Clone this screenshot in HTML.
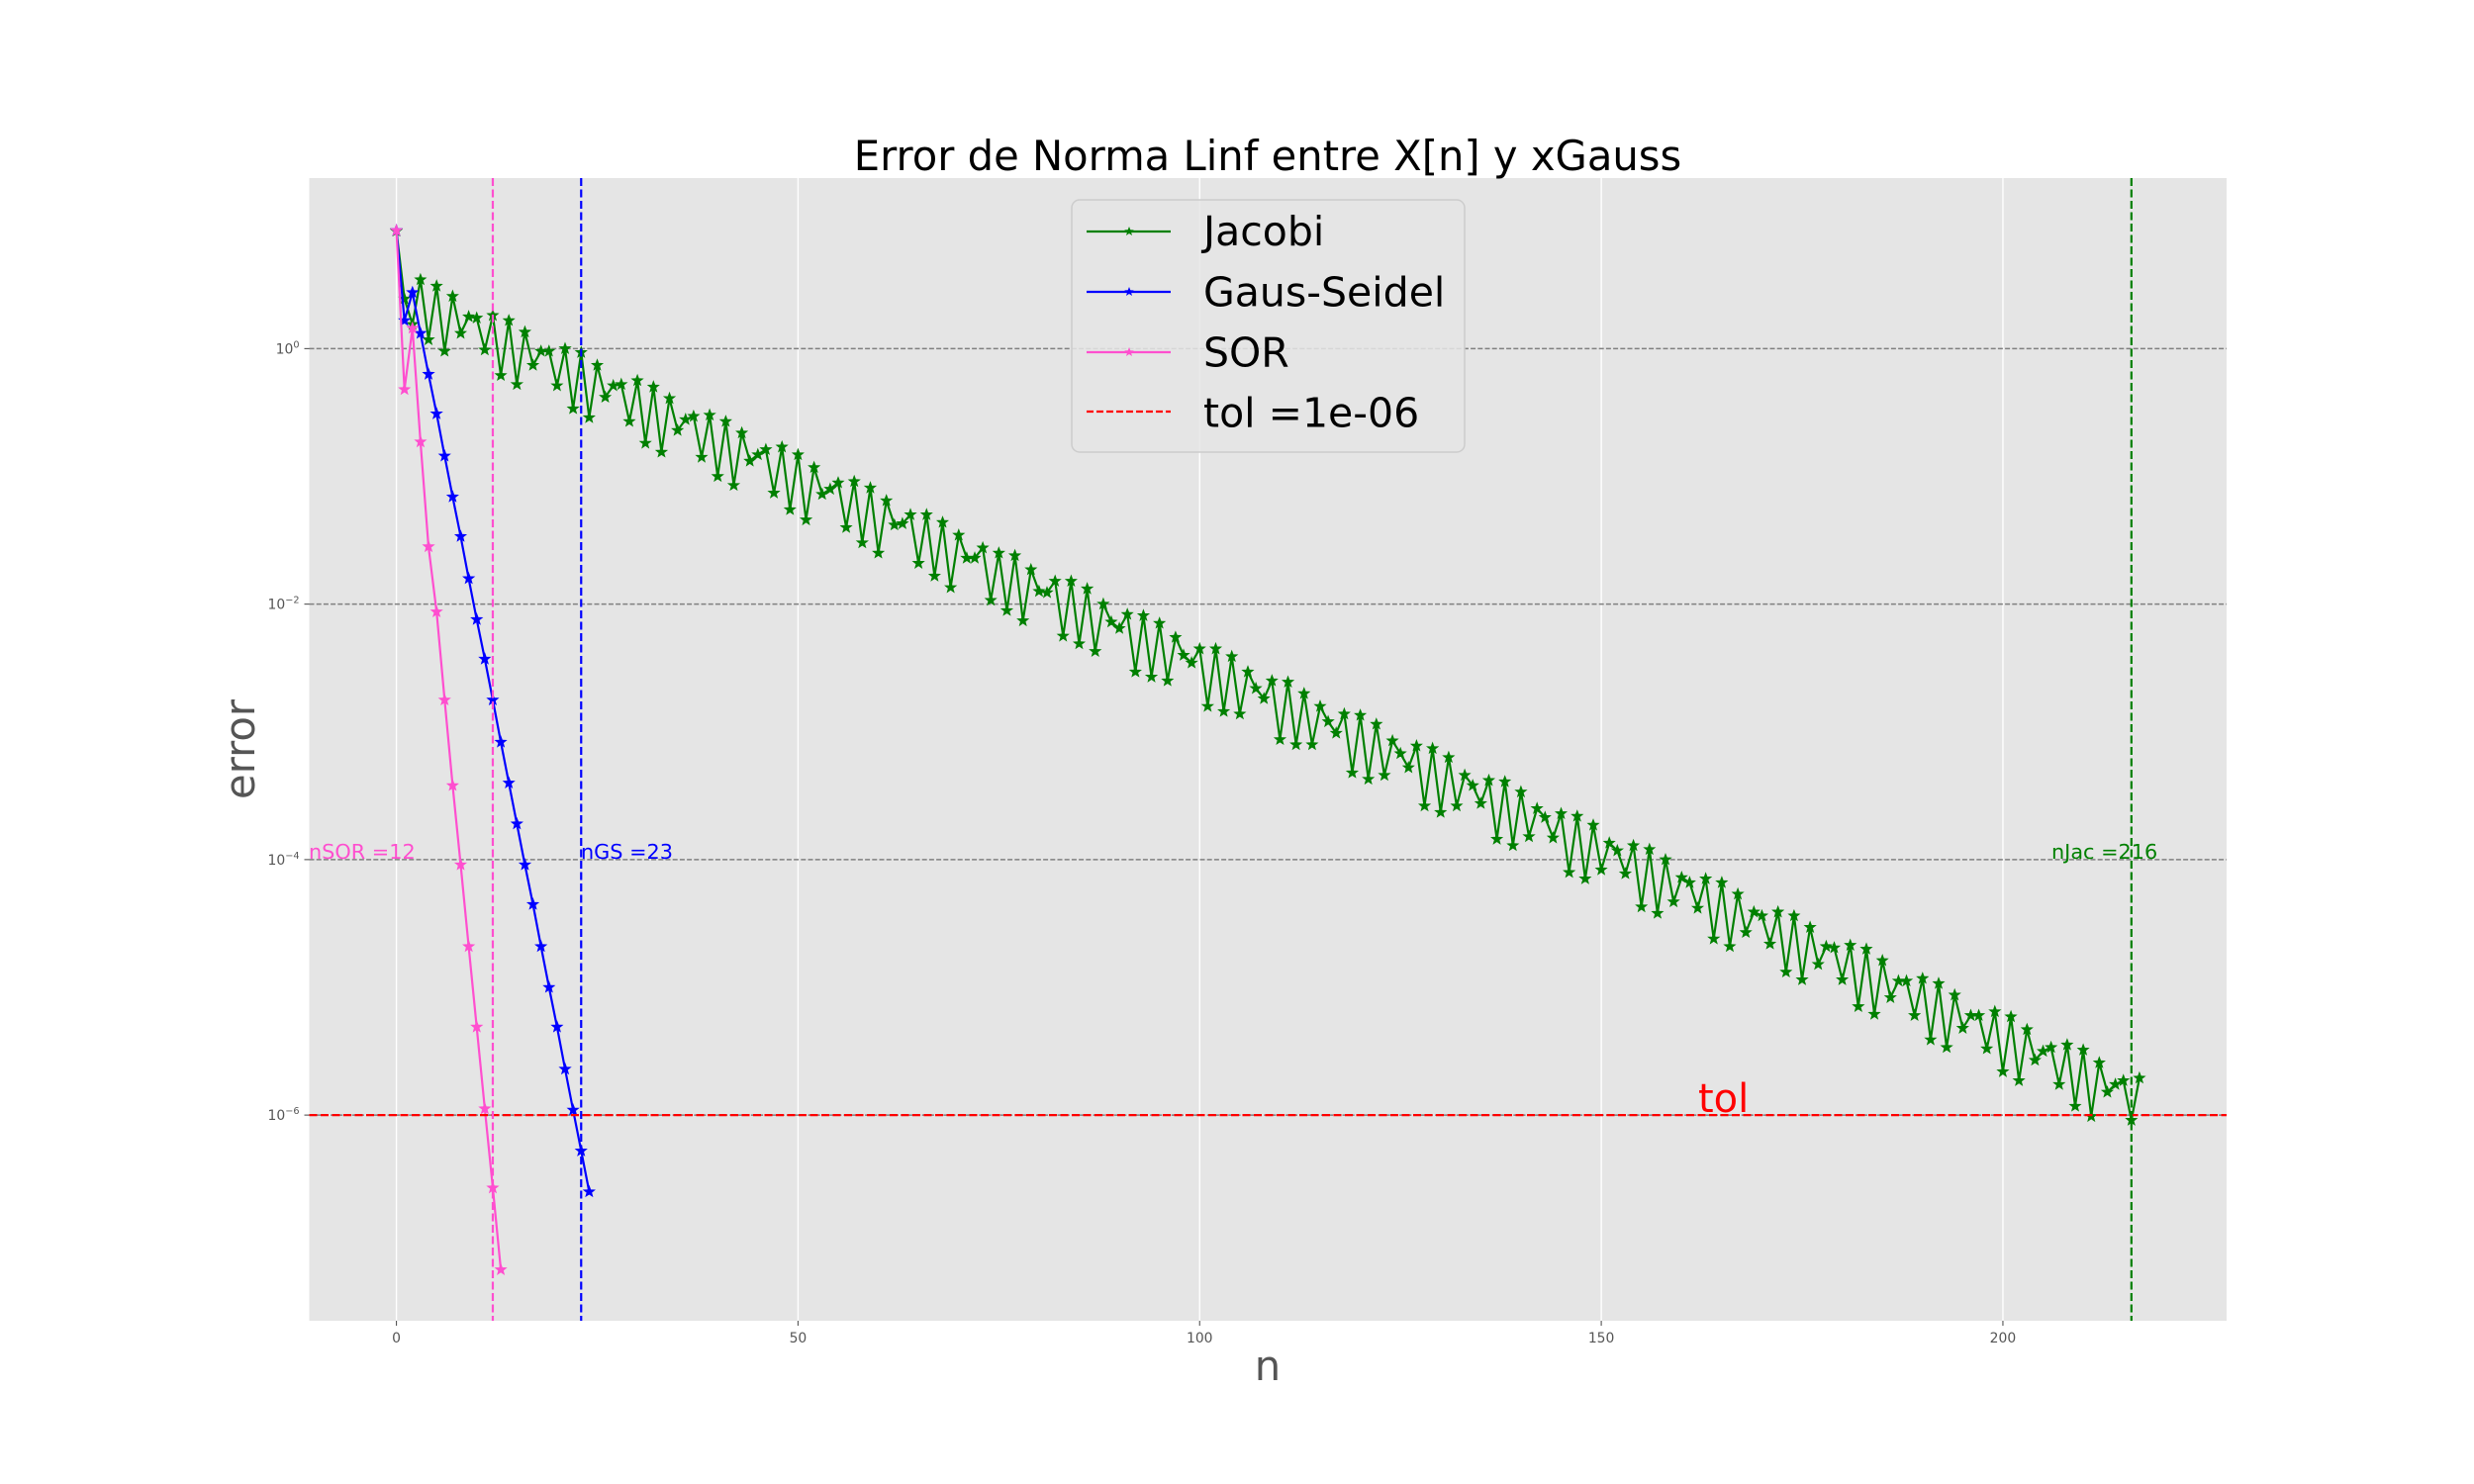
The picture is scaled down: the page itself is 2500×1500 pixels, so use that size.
<!DOCTYPE html>
<html><head><meta charset="utf-8"><title>Error de Norma Linf</title>
<style>html,body{margin:0;padding:0;background:#fff}svg{display:block}</style></head>
<body>
<svg id="chart" xmlns="http://www.w3.org/2000/svg" width="2500" height="1500" viewBox="0 0 2500 1500" font-family="'DejaVu Sans','Liberation Sans',sans-serif">
<rect x="0" y="0" width="2500" height="1500" fill="#ffffff"/>
<rect x="312.5" y="180" width="1937.5" height="1155" fill="#e5e5e5"/>
<g id="grid"></g>
<g id="series"></g>
<g id="refs"></g>
<g id="ticks"></g>
<text x="1281" y="172" font-size="41.7" text-anchor="middle" fill="#000">Error de Norma Linf entre X[n] y xGauss</text>
<text x="1281" y="1395" font-size="41.7" text-anchor="middle" fill="#555">n</text>
<text transform="translate(257,757.5) rotate(-90)" font-size="41.7" text-anchor="middle" fill="#555">error</text>
<text x="312" y="868" font-size="20.8" fill="#ff4fcf">nSOR =12</text>
<text x="587" y="868" font-size="20.8" fill="#0000ff">nGS =23</text>
<text x="2073" y="868" font-size="20.8" fill="#008000">nJac =216</text>
<text x="1716" y="1124" font-size="40" fill="#ff0000">tol</text>
<g>
<rect x="1083" y="202" width="397" height="255" rx="8" fill="#e5e5e5" fill-opacity="0.85" stroke="#cccccc" stroke-width="1.5"/>
<g>
<line x1="1098" y1="234" x2="1183" y2="234" stroke="#008000" stroke-width="2.2"/>
<polygon points="1141,229 1142.3,232.3 1145.8,232.4 1143,234.6 1144,238 1141,236 1138,238 1139,234.6 1136.2,232.4 1139.7,232.3" fill="#008000"/>
<text x="1216" y="248" font-size="41" fill="#000">Jacobi</text></g>
<g>
<line x1="1098" y1="295" x2="1183" y2="295" stroke="#0000ff" stroke-width="2.2"/>
<polygon points="1141,290 1142.3,293.3 1145.8,293.4 1143,295.6 1144,299 1141,297 1138,299 1139,295.6 1136.2,293.4 1139.7,293.3" fill="#0000ff"/>
<text x="1216" y="309.5" font-size="41" fill="#000">Gaus-Seidel</text></g>
<g>
<line x1="1098" y1="356" x2="1183" y2="356" stroke="#ff4fcf" stroke-width="2.2"/>
<polygon points="1141,351 1142.3,354.3 1145.8,354.4 1143,356.6 1144,360 1141,358 1138,360 1139,356.6 1136.2,354.4 1139.7,354.3" fill="#ff4fcf"/>
<text x="1216" y="370.5" font-size="41" fill="#000">SOR</text></g>
<g>
<line x1="1098" y1="416" x2="1183" y2="416" stroke="#ff0000" stroke-width="2.2" stroke-dasharray="7,3"/>
<text x="1216" y="431.7" font-size="41" fill="#000">tol =1e-06</text></g>
</g>
</svg>
<script>
const xTicks = [0, 50, 100, 150, 200];
const yTickExps = [0, -2, -4, -6];
const tolExp = -6;
const nSOR = 12, nGS = 23, nJac = 216;
const jacobiLog10 = [0.92,0.39,0.19,0.54,0.07,0.49,-0.02,0.41,0.12,0.25,
0.24,-0.01,0.26,-0.21,0.22,-0.28,0.13,-0.13,-0.02,-0.02,
-0.29,0.00,-0.47,-0.03,-0.54,-0.13,-0.38,-0.29,-0.28,-0.57,
-0.25,-0.74,-0.30,-0.81,-0.39,-0.64,-0.555,-0.53,-0.85,-0.52,
-1.00,-0.57,-1.07,-0.66,-0.88,-0.83,-0.79,-1.13,-0.77,-1.26,
-0.83,-1.34,-0.93,-1.14,-1.10,-1.05,-1.40,-1.04,-1.52,-1.09,
-1.60,-1.19,-1.38,-1.37,-1.30,-1.68,-1.30,-1.78,-1.36,-1.87,
-1.46,-1.64,-1.64,-1.56,-1.97,-1.60,-2.05,-1.62,-2.13,-1.73,
-1.90,-1.91,-1.82,-2.25,-1.82,-2.31,-1.88,-2.37,-2.00,-2.14,
-2.19,-2.08,-2.53,-2.09,-2.57,-2.15,-2.60,-2.26,-2.40,-2.46,
-2.35,-2.80,-2.35,-2.84,-2.41,-2.86,-2.53,-2.66,-2.74,-2.60,
-3.06,-2.61,-3.10,-2.70,-3.10,-2.80,-2.92,-3.01,-2.86,-3.32,
-2.87,-3.37,-2.94,-3.34,-3.07,-3.17,-3.28,-3.11,-3.58,-3.13,
-3.63,-3.20,-3.58,-3.34,-3.42,-3.56,-3.38,-3.84,-3.39,-3.89,
-3.47,-3.82,-3.60,-3.67,-3.83,-3.64,-4.10,-3.66,-4.15,-3.73,
-4.08,-3.87,-3.93,-4.11,-3.89,-4.37,-3.92,-4.42,-4.00,-4.33,
-4.14,-4.18,-4.38,-4.15,-4.62,-4.18,-4.68,-4.27,-4.57,-4.41,
-4.44,-4.66,-4.41,-4.88,-4.44,-4.94,-4.53,-4.82,-4.68,-4.69,
-4.94,-4.67,-5.15,-4.70,-5.21,-4.79,-5.08,-4.95,-4.95,-5.22,
-4.93,-5.41,-4.97,-5.47,-5.06,-5.32,-5.22,-5.22,-5.48,-5.19,
-5.66,-5.23,-5.73,-5.33,-5.57,-5.50,-5.47,-5.76,-5.45,-5.93,
-5.49,-6.01,-5.59,-5.82,-5.76,-5.73,-6.04,-5.71];
const gaussSeidelLog10 = [0.925,0.22,0.44,0.12,-0.20,-0.51,-0.84,-1.16,-1.47,-1.80,-2.12,-2.43,-2.75,-3.08,-3.40,-3.72,-4.04,-4.35,-4.68,-5.00,-5.31,-5.64,-5.96,-6.28,-6.60];
const sorLog10 = [0.925,-0.32,0.16,-0.73,-1.55,-2.06,-2.75,-3.42,-4.04,-4.68,-5.31,-5.95,-6.57,-7.21];

const NS = 'http://www.w3.org/2000/svg';
const PL = 312.5, PR = 2250, PT = 180, PB = 1335;
const XMIN = -10.85, XMAX = 227.85, YMAX = 1.335, YMIN = -7.61;
function X(n){ return PL + (n - XMIN) * (PR - PL) / (XMAX - XMIN); }
function Y(e){ return PT + (YMAX - e) * (PB - PT) / (YMAX - YMIN); }
function mk(tag, attrs, parent){ const el = document.createElementNS(NS, tag); for (const k in attrs) el.setAttribute(k, attrs[k]); parent.appendChild(el); return el; }
function star(cx, cy, r){ let p=[]; for(let i=0;i<10;i++){ const a=-Math.PI/2+i*Math.PI/5; const rr=i%2?r*0.42:r; p.push((cx+rr*Math.cos(a)).toFixed(1)+','+(cy+rr*Math.sin(a)).toFixed(1)); } return p.join(' '); }

const grid = document.getElementById('grid');
xTicks.forEach(t => {
  const l = mk('line', {x1:X(t), x2:X(t), y1:PT, y2:PB, stroke:'#ffffff', 'stroke-width':1.4}, grid);
  
  
});
yTickExps.forEach(e => {
  const l = mk('line', {x1:PL, x2:PR, y1:Y(e), y2:Y(e), stroke:'#808080', 'stroke-width':1.4, 'stroke-dasharray':'5,2.2'}, grid);
  
  
});

const ticks = document.getElementById('ticks');
xTicks.forEach(t => {
  const l = mk('line', {x1:X(t), x2:X(t), y1:PB, y2:PB+5, stroke:'#555', 'stroke-width':1.1}, ticks);
  
  
  const tx = mk('text', {x:X(t), y:PB+22, 'font-size':13.9, 'text-anchor':'middle', fill:'#555'}, ticks);
  tx.textContent = String(t);
  
  
});
yTickExps.forEach(e => {
  const l = mk('line', {x1:PL-5, x2:PL, y1:Y(e), y2:Y(e), stroke:'#555', 'stroke-width':1.1}, ticks);
  
  
  const tx = mk('text', {x:PL-10, y:Y(e)+5, 'font-size':13.9, 'text-anchor':'end', fill:'#555'}, ticks);
  const base = document.createElementNS(NS, 'tspan'); base.textContent = '10'; tx.appendChild(base);
  const sup = document.createElementNS(NS, 'tspan'); sup.setAttribute('dy', '-6'); sup.setAttribute('font-size', '9.7');
  sup.textContent = e === 0 ? '0' : '\u2212' + Math.abs(e); tx.appendChild(sup);
  
  
});

const series = document.getElementById('series');
function drawSeries(vals, color, name){
  const g = mk('g', {}, series);
  
  
  const pts = vals.map((v,i) => X(i).toFixed(1) + ',' + Y(v).toFixed(1)).join(' ');
  const pl = mk('polyline', {points:pts, fill:'none', stroke:color, 'stroke-width':2.2, 'stroke-linejoin':'round'}, g);
  
  
  vals.forEach((v,i) => {
    const s = mk('polygon', {points:star(X(i), Y(v), 5.5), fill:color, stroke:color, 'stroke-width':1}, g);
    
    
  });
}
drawSeries(jacobiLog10, '#008000', 'jacobi');
drawSeries(gaussSeidelLog10, '#0000ff', 'gauss-seidel');
drawSeries(sorLog10, '#ff4fcf', 'sor');

const refs = document.getElementById('refs');
const tl = mk('line', {x1:PL, x2:PR, y1:Y(tolExp), y2:Y(tolExp), stroke:'#ff0000', 'stroke-width':2.2, 'stroke-dasharray':'8,3.5'}, refs);


[[nSOR,'#ff4fcf','nsor-line'],[nGS,'#0000ff','ngs-line'],[nJac,'#008000','njac-line']].forEach(([n,c,nm]) => {
  const l = mk('line', {x1:X(n), x2:X(n), y1:PT, y2:PB, stroke:c, 'stroke-width':2.2, 'stroke-dasharray':'8,3.5'}, refs);
  
  
});
</script>
</body></html>
